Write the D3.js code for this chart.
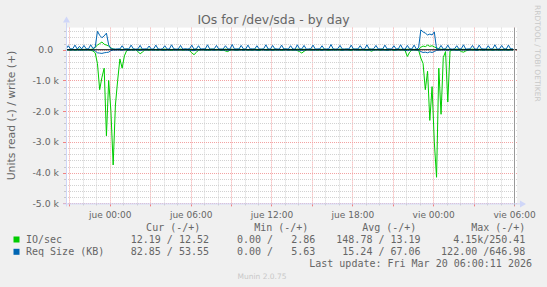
<!DOCTYPE html>
<html><head><meta charset="utf-8">
<script src="https://cdn.jsdelivr.net/npm/d3@7/dist/d3.min.js"></script>
<style>
body{margin:0;background:#f0f0f0}
svg{display:block}
text{white-space:pre}
</style>
</head><body>
<svg id="chart" width="547" height="287"></svg>
<script>
// ---- data (10-minute samples starting at Wed 20:45, hours relative to Thu 00:00) ----
const startHour = -3.25;
const stepHours = 1/6;

// IO/sec read (drawn negative)
const ioRead = [
 10,5,20,0,15,8,0,12,5,0,
 8,20,40,100,450,1300,900,600,2800,1000,
 2000,3750,1800,1000,300,600,200,30,10,5,
 15,0,60,130,80,10,5,20,0,10,
 5,15,0,20,8,0,10,25,5,0,
 12,0,18,5,0,30,100,160,90,10,
 5,0,15,8,20,0,5,10,0,25,
 10,40,60,15,0,8,20,5,0,12,
 0,15,5,20,0,10,30,5,0,8,
 15,0,20,5,10,0,25,8,0,15,
 5,20,0,30,60,110,50,10,0,12,
 8,0,20,5,15,0,10,25,0,5,
 15,0,8,20,5,0,12,30,0,10,
 5,15,0,20,8,10,50,15,0,5,
 20,0,10,15,5,0,25,8,0,12,
 5,30,220,80,10,0,15,10,270,450,
 1300,700,2300,1200,3000,4150,600,2100,250,60,
 1700,40,10,0,15,5,60,80,40,10,
 0,12,5,20,0,8,15,0,10,5,
 20,0,8,15,0,10,5,18,0,12
];
// IO/sec write (drawn positive)
const ioWrite = [
 10,5,15,8,0,12,20,5,10,15,
 8,10,20,80,150,200,250,180,150,120,
 60,20,10,5,15,8,12,20,5,10,
 15,8,5,20,10,0,12,18,5,10,
 8,15,5,10,20,5,12,8,15,5,
 10,20,5,12,8,15,10,5,20,8,
 12,5,15,10,8,20,5,12,10,15,
 5,20,8,12,15,5,10,20,8,12,
 15,5,10,8,20,12,5,15,10,8,
 20,5,12,15,8,10,5,20,12,8,
 10,15,5,20,12,8,15,5,10,20,
 8,12,5,15,10,20,8,5,12,15,
 10,5,20,8,15,12,5,10,20,8,
 12,15,5,10,8,20,15,5,12,10,
 8,20,5,15,12,10,5,8,20,15,
 10,5,15,20,8,12,5,10,80,120,
 100,150,110,130,90,60,30,15,10,20,
 8,15,5,12,20,10,8,15,5,12,
 10,20,8,5,15,12,10,8,20,5,
 12,15,8,10,5,20,12,8,15,12
];
// Req Size (KB) read (drawn negative)
const reqRead = [
 10,5,15,8,12,5,20,10,8,15,
 5,12,8,40,100,110,120,100,90,80,
 30,10,15,8,12,20,5,10,15,8,
 12,5,20,25,15,8,10,5,12,15,
 8,10,5,15,20,8,12,5,10,15,
 8,12,5,10,15,20,25,30,15,8,
 10,5,12,15,8,10,20,5,12,8,
 15,10,20,8,5,12,15,10,8,20,
 5,12,10,15,8,20,12,5,10,15,
 8,12,20,5,10,15,8,12,5,20,
 10,8,15,12,20,25,15,5,10,8,
 12,15,5,10,20,8,12,5,15,10,
 8,12,5,20,10,15,8,12,5,10,
 15,8,12,5,20,10,15,8,12,5,
 10,15,8,20,12,5,10,15,8,12,
 5,20,30,15,8,12,10,20,60,90,
 80,100,70,90,60,20,15,10,8,12,
 20,5,10,15,20,10,8,12,5,15,
 10,8,12,20,5,10,15,8,12,5,
 15,10,8,12,20,5,10,15,8,12
];
// Req Size (KB) write (drawn positive)
const reqWrite = [
 20,130,25,30,150,20,110,25,140,30,
 25,160,40,80,600,470,390,450,540,160,
 30,25,20,30,25,130,20,30,25,150,
 30,20,25,140,20,30,25,120,20,25,
 150,25,20,30,130,25,20,160,30,20,
 25,140,20,30,25,30,150,20,25,130,
 20,30,25,160,25,20,30,140,25,20,
 25,130,30,20,170,25,30,20,140,25,
 20,150,25,30,20,130,25,20,30,160,
 25,20,140,30,25,20,150,25,30,20,
 130,25,20,160,30,25,140,20,25,30,
 150,20,30,25,130,20,25,30,170,25,
 20,30,140,25,20,30,25,150,20,30,
 25,130,20,30,160,25,20,30,140,25,
 30,20,150,25,30,20,130,25,30,160,
 25,20,140,30,25,150,20,60,645,580,
 540,480,510,480,580,30,25,140,20,30,
 150,25,20,30,130,25,30,160,20,25,
 30,140,25,20,150,30,25,20,130,25,
 30,160,20,25,140,30,20,150,25,30
];

const xLabelHours = [0,6,12,18,24,30];
const xLabels = ["jue 00:00","jue 06:00","jue 12:00","jue 18:00","vie 00:00","vie 06:00"];
const yLabelValues = [-5000,-4000,-3000,-2000,-1000,0];
const yLabels = ["-5.0 k","-4.0 k","-3.0 k","-2.0 k","-1.0 k","0.0  "];

const seriesNames = ["IO/sec","Req Size (KB)"];
const seriesColors = ["#00CC00","#0066B3"];
const legendHeaders = ["Cur (-/+)","Min (-/+)","Avg (-/+)","Max (-/+)"];
const legendCur = ["12.19 / 12.52","82.85 / 53.55"];
const legendMin = ["0.00 /   2.86","0.00 /   5.63"];
const legendAvg = ["148.78 / 13.19","15.24 / 67.06"];
const legendMax = ["4.15k/250.41","122.00 /646.98"];
const lastUpdate = "Last update: Fri Mar 20 06:00:11 2026";

// ---- drawing ----
(function(){
const svg = d3.select("#chart");
svg.append("rect").attr("width",547).attr("height",287).attr("fill","#F0F0F0");

const pL = 66, pR = 517, pT = 27.6, pB = 203.4;
const x = d3.scaleLinear().domain([-3.25, 30.22]).range([pL, pR]);
const y = d3.scaleLinear().domain([-5000, 720]).range([pB, pT]);

svg.append("rect").attr("x",pL).attr("y",pT).attr("width",pR-pL).attr("height",pB-pT).attr("fill","#FFFFFF");

const sans = "DejaVu Sans, sans-serif";
const mono = "DejaVu Sans Mono, monospace";
const fontCol = "#666666";

// grid
const g = svg.append("g");
d3.range(-3, 31, 1).forEach(h => {
  const px = Math.round(x(h)) + 0.5;
  const major = (h % 3 === 0);
  g.append("line").attr("x1",px).attr("x2",px).attr("y1",pT).attr("y2",pB)
    .attr("stroke", major ? "#F3A3A3" : "#D2D2D2").attr("stroke-dasharray","1,1");
  g.append("line").attr("x1",px).attr("x2",px).attr("y1",pB).attr("y2",pB+(major?3:2))
    .attr("stroke", major ? "#F08080" : "#C8C8C8");
});
d3.range(-5000, 601, 200).forEach(v => {
  const py = Math.round(y(v)) + 0.5;
  const major = (v % 1000 === 0);
  g.append("line").attr("x1",pL).attr("x2",pR).attr("y1",py).attr("y2",py)
    .attr("stroke", major ? "#F3A3A3" : "#D2D2D2").attr("stroke-dasharray","1,1");
  g.append("line").attr("x1",pL-(major?3:2)).attr("x2",pL).attr("y1",py).attr("y2",py)
    .attr("stroke", major ? "#F08080" : "#C8C8C8");
});

// series
const idxX = i => x(startHour + i*stepHours);
function drawSeries(arr, sign, color){
  const line = d3.line().x((d,i)=>idxX(i)).y(d=>y(sign*d));
  svg.append("path").datum(arr).attr("d",line).attr("fill","none")
    .attr("stroke",color).attr("stroke-width",1).attr("stroke-linejoin","round");
}
drawSeries(ioRead, -1, seriesColors[0]);
drawSeries(ioWrite, 1, seriesColors[0]);
drawSeries(reqRead, -1, seriesColors[1]);
drawSeries(reqWrite, 1, seriesColors[1]);

// zero line
svg.append("line").attr("x1",pL).attr("x2",pR).attr("y1",y(0)).attr("y2",y(0))
  .attr("stroke","#000").attr("stroke-width",1.2);

// "now" line
const nx = Math.round(x(30))+0.5;
svg.append("line").attr("x1",nx).attr("x2",nx).attr("y1",pT).attr("y2",pB+2).attr("stroke","#999").attr("stroke-width",1);

// axes lines + arrows
const axisCol = "#CFD6F8";
svg.append("line").attr("x1",pL-3).attr("x2",pR+3).attr("y1",pB+0.5).attr("y2",pB+0.5).attr("stroke",axisCol);
svg.append("line").attr("x1",pL+0.5).attr("x2",pL+0.5).attr("y1",pB+3).attr("y2",pT-5).attr("stroke",axisCol);
svg.append("path").attr("d",`M${pR+3},${pB-3} L${pR+9},${pB+0.5} L${pR+3},${pB+4} Z`).attr("fill",axisCol);
svg.append("path").attr("d",`M${pL-3},${pT-5} L${pL+0.5},${pT-11} L${pL+4},${pT-5} Z`).attr("fill",axisCol);

// axis labels via d3 axes
const xAxis = d3.axisBottom(x).tickValues(xLabelHours).tickFormat((d,i)=>xLabels[i]).tickSize(0);
const gx = svg.append("g").attr("transform",`translate(0,${pB+3})`).call(xAxis);
gx.select(".domain").remove();
gx.selectAll("text").attr("font-family",sans).attr("font-size",9).attr("fill",fontCol).attr("dy","0.95em");

const yAxis = d3.axisLeft(y).tickValues(yLabelValues).tickFormat((d,i)=>yLabels[i]).tickSize(0);
const gy = svg.append("g").attr("transform",`translate(${pL-7},0)`).call(yAxis);
gy.select(".domain").remove();
gy.selectAll("text").attr("font-family",sans).attr("font-size",9.3).attr("fill",fontCol).attr("x",0);

// title
svg.append("text").attr("x",273.5).attr("y",24).attr("text-anchor","middle")
  .attr("font-family",sans).attr("font-size",12.4).attr("fill",fontCol).text("IOs for /dev/sda - by day");

// vertical unit label
svg.append("text").attr("transform","translate(15,115.5) rotate(-90)").attr("text-anchor","middle")
  .attr("font-family",sans).attr("font-size",10.8).attr("fill",fontCol).text("Units read (-) / write (+)");

// rrdtool watermark
svg.append("text").attr("transform","translate(535,5) rotate(90)")
  .attr("font-family",sans).attr("font-size",7.5).attr("fill","#C8C8C8").text("RRDTOOL / TOBI OETIKER");

// legend
const hdrY = 230.5, rowY = [243, 255.3], lastY = 266.8;
const colEnds = [209, 315.3, 420.6, 525.4];
const hdrEnds = [200.3, 308.4, 416.4, 525.4];
legendHeaders.forEach((h,i)=>{
  svg.append("text").attr("x",hdrEnds[i]).attr("y",hdrY).attr("text-anchor","end")
    .attr("font-family",mono).attr("font-size",10).attr("fill",fontCol).text(h);
});
const cols = [legendCur, legendMin, legendAvg, legendMax];
seriesNames.forEach((n,r)=>{
  svg.append("rect").attr("x",13.5).attr("y",rowY[r]-6.5).attr("width",6).attr("height",6).attr("fill",seriesColors[r]);
  svg.append("text").attr("x",26).attr("y",rowY[r]).attr("font-family",mono).attr("font-size",10).attr("fill",fontCol).text(n);
  cols.forEach((c,ci)=>{
    svg.append("text").attr("x",colEnds[ci]).attr("y",rowY[r]).attr("text-anchor","end")
      .attr("font-family",mono).attr("font-size",10).attr("fill",fontCol).text(c[r]);
  });
});
svg.append("text").attr("x",532).attr("y",lastY).attr("text-anchor","end")
  .attr("font-family",mono).attr("font-size",10).attr("fill",fontCol).text(lastUpdate);
svg.append("text").attr("x",262).attr("y",279).attr("text-anchor","middle")
  .attr("font-family",sans).attr("font-size",7.5).attr("fill","#C8C8C8").text("Munin 2.0.75");
})();
</script>
</body></html>
